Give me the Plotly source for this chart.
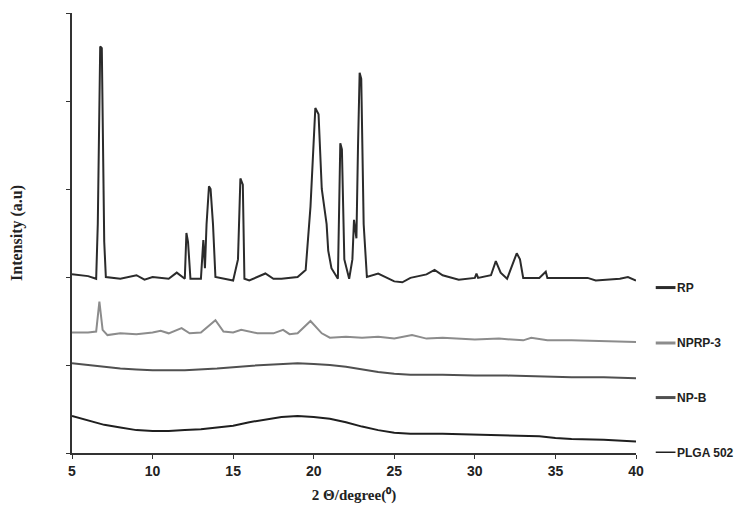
import plotly.graph_objects as go

# 2-theta / intensity pairs (arbitrary units, stacked)
rp_x = [5, 6, 6.5, 6.6, 6.75, 6.85, 7.0, 7.1, 8, 9, 9.5, 10, 11, 11.5, 12, 12.1, 12.2, 12.35, 13, 13.15, 13.25, 13.35, 13.5, 13.6, 13.75, 13.9, 15, 15.3, 15.45, 15.6, 15.7, 16, 17, 17.5, 18, 19, 19.5, 19.8, 20.1, 20.3, 20.5, 20.8, 20.9, 21.1, 21.5, 21.65, 21.75, 21.9, 22.2, 22.4, 22.5, 22.65, 22.75, 22.85, 22.95, 23.1, 23.3, 24, 25, 25.5, 26, 27, 27.5, 28, 29, 30, 30.1, 30.2, 31, 31.3, 31.6, 32, 32.6, 32.8, 33, 34, 34.4, 34.5, 35, 37, 37.5, 39, 39.5, 40]
rp_y = [2.03, 2.01, 1.98, 2.6, 4.62, 4.6, 2.4, 2.0, 1.98, 2.02, 1.97, 2.0, 1.98, 2.05, 1.98, 2.5, 2.4, 1.98, 1.98, 2.42, 2.1, 2.6, 3.03, 3.0, 2.6, 2.0, 1.96, 2.2, 3.12, 3.05, 1.98, 1.96, 2.04, 1.98, 1.98, 2.0, 2.08, 2.8, 3.92, 3.85, 3.0, 2.6, 2.3, 2.1, 1.98, 3.52, 3.45, 2.2, 1.98, 2.2, 2.65, 2.44, 3.5, 4.32, 4.25, 2.6, 2.0, 2.04, 1.95, 1.94, 1.99, 2.03, 2.08, 2.02, 1.97, 1.99, 2.04, 1.99, 2.02, 2.18, 2.05, 1.98, 2.27, 2.2, 1.99, 1.99, 2.06, 1.99, 1.99, 1.99, 1.96, 1.98, 2.0, 1.96]

nprp_x = [5, 6, 6.5, 6.7, 6.9, 7.2, 8, 9, 10, 10.5, 11, 11.8, 12.3, 13, 13.9, 14.4, 15, 15.5, 16.5, 17.5, 18.1, 18.5, 19, 19.8, 20.5, 21, 22, 23, 24, 25, 26.1, 27, 28, 30, 31.5, 33, 33.5, 34.5, 36, 38, 40]
nprp_y = [1.37, 1.37, 1.38, 1.72, 1.4, 1.34, 1.36, 1.35, 1.37, 1.39, 1.36, 1.42, 1.36, 1.37, 1.51, 1.38, 1.37, 1.4, 1.36, 1.36, 1.4, 1.35, 1.36, 1.5, 1.36, 1.31, 1.32, 1.31, 1.32, 1.3, 1.34, 1.3, 1.31, 1.29, 1.3, 1.28, 1.31, 1.28, 1.28, 1.27, 1.26]

npb_x = [5, 6, 7, 8, 9, 10, 12, 14, 16, 18, 19, 20, 21, 22, 23, 24, 25, 26, 28, 30, 32, 34, 36, 38, 40]
npb_y = [1.02, 1.0, 0.98, 0.96, 0.95, 0.94, 0.94, 0.96, 0.99, 1.01, 1.02, 1.01, 1.0, 0.98, 0.95, 0.92, 0.9, 0.89, 0.89, 0.88, 0.88, 0.87, 0.86, 0.86, 0.85]

plga_x = [5, 6, 7, 8, 9, 10, 11, 12, 13, 14, 15, 16, 17, 18, 19, 20, 21, 22, 23, 24, 25, 26, 28, 30, 32, 34, 35, 36, 38, 40]
plga_y = [0.42, 0.37, 0.32, 0.29, 0.26, 0.25, 0.25, 0.26, 0.27, 0.29, 0.31, 0.35, 0.38, 0.41, 0.42, 0.41, 0.39, 0.35, 0.3, 0.26, 0.23, 0.22, 0.22, 0.21, 0.2, 0.19, 0.17, 0.16, 0.15, 0.13]

# legend rows sit a little below each trace's right end
legend_y = [1.88, 1.25, 0.63, 0.0]
x_ticks = [5, 10, 15, 20, 25, 30, 35, 40]

series = [
    ("RP", rp_x, rp_y, "#2b2b2b"),
    ("NPRP-3", nprp_x, nprp_y, "#8c8c8c"),
    ("NP-B", npb_x, npb_y, "#505050"),
    ("PLGA 502", plga_x, plga_y, "#1f1f1f"),
]

fig = go.Figure()
for (name, xs, ys, col), ly in zip(series, legend_y):
    fig.add_trace(go.Scatter(x=xs, y=ys, name=name, mode="lines",
                             line=dict(color=col, width=2), showlegend=False))
    fig.add_shape(type="line", xref="paper", yref="y", x0=1.035, x1=1.07, y0=ly, y1=ly,
                  line=dict(color=col, width=3))
    fig.add_annotation(xref="paper", yref="y", x=1.07, y=ly, text=f"<b>{name}</b>",
                       showarrow=False, xanchor="left", yanchor="middle",
                       font=dict(family="Liberation Sans", size=12, color="#222"))

fig.update_layout(
    width=750, height=508,
    margin=dict(l=64, r=122, t=5, b=63),
    plot_bgcolor="white", paper_bgcolor="white",
    font=dict(family="Liberation Sans", color="#222", size=12),
    showlegend=False,
)
fig.update_xaxes(range=[5, 40], tickvals=x_ticks, ticktext=[f"<b>{t}</b>" for t in x_ticks],
                 showline=True, linecolor="#333", linewidth=1.5, showgrid=False,
                 ticks="outside", ticklen=4, tickcolor="#333",
                 tickfont=dict(size=14, family="Liberation Sans"),
                 title=dict(text="<b>2 Θ/degree(⁰)</b>", standoff=12,
                            font=dict(family="Liberation Serif", size=15)))
fig.update_yaxes(range=[0, 5], dtick=1, showticklabels=False,
                 showline=True, linecolor="#333", linewidth=1.5, showgrid=False,
                 ticks="outside", ticklen=4, tickcolor="#333", zeroline=False,
                 title=dict(text="<b>Intensity (a.u)</b>", standoff=40,
                            font=dict(family="Liberation Serif", size=16)))

fig.write_html("out.html")
